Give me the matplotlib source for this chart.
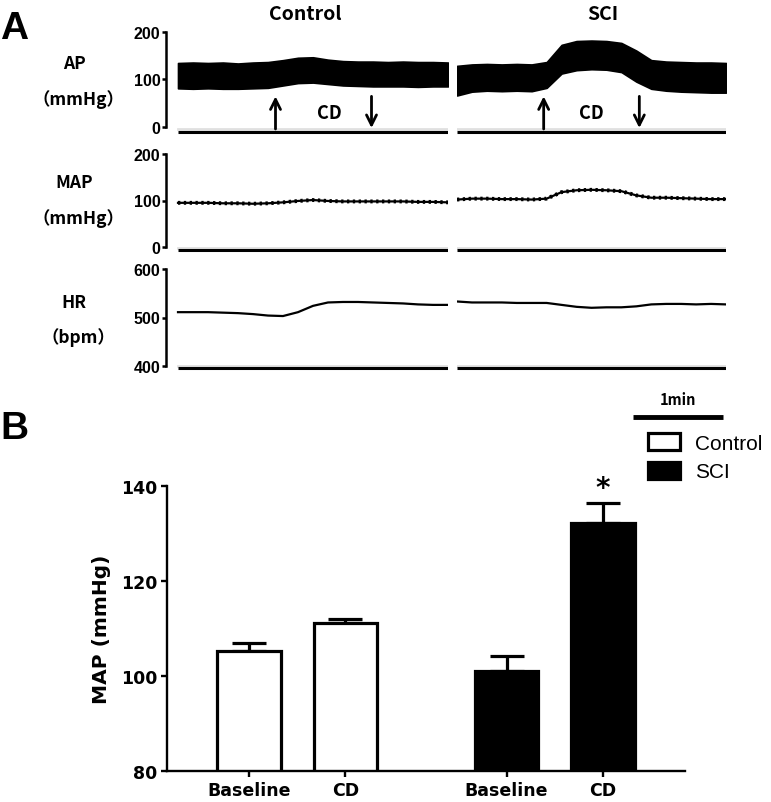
#!/usr/bin/env python3
"""Panel A: AP / MAP / HR recordings (Control vs SCI); panel B: MAP bar chart."""

import matplotlib
matplotlib.use("Agg")
import matplotlib.pyplot as plt
from matplotlib.patches import Patch
from matplotlib.transforms import offset_copy

W, H = 771, 803

# ---- panel A: traces, one value every 10 s (3 min) ----
t_sec = [0, 10, 20, 30, 40, 50, 60, 70, 80, 90, 100, 110, 120, 130, 140, 150, 160, 170, 180]

ctrl_ap_hi = [134, 135, 134, 135, 133, 135, 136, 140, 145, 146, 141, 138, 137, 137, 136, 137, 136, 136, 135]
ctrl_ap_lo = [81, 80, 81, 80, 80, 81, 82, 87, 92, 93, 90, 87, 86, 85, 85, 85, 84, 85, 85]
sci_ap_hi = [128, 131, 132, 131, 132, 131, 136, 172, 180, 181, 180, 176, 160, 140, 137, 136, 135, 135, 134]
sci_ap_lo = [66, 74, 76, 75, 76, 75, 82, 112, 119, 121, 120, 115, 95, 80, 76, 74, 73, 72, 72]

ctrl_map = [95, 95, 95, 94, 94, 93, 94, 96, 99, 101, 99, 98, 98, 98, 98, 98, 97, 97, 96]
sci_map = [102, 104, 104, 103, 103, 102, 104, 118, 122, 123, 122, 120, 111, 106, 106, 105, 104, 103, 103]

ctrl_hr = [511, 511, 511, 510, 509, 507, 504, 503, 511, 524, 531, 532, 532, 531, 530, 529, 527, 526, 526]
sci_hr = [533, 531, 531, 531, 530, 530, 530, 526, 522, 520, 521, 521, 523, 527, 528, 528, 527, 528, 527]

# CD on / off marks (s)
ctrl_cd = [65, 129]
sci_cd = [58, 122]

# ---- panel B: MAP (mmHg), mean and SEM ----
bar_labels = ["Baseline", "CD", "Baseline", "CD"]
ctrl_mean = [105.3, 111.2]
ctrl_sem = [1.7, 0.8]
sci_mean = [101.0, 132.2]
sci_sem = [3.2, 4.2]


def px_axes(fig, x0, y0, x1, y1):
    return fig.add_axes([x0 / W, 1 - y1 / H, (x1 - x0) / W, (y1 - y0) / H])


def ylims(v_a, p_a, v_b, p_b, top, bottom):
    k = (v_b - v_a) / (p_b - p_a)
    return v_a + (bottom - p_a) * k, v_a + (top - p_a) * k


def ftext(fig, x, y, s, **kw):
    fig.text(x / W, 1 - y / H, s, **kw)


def main() -> None:
    plt.rcParams["font.family"] = ["DejaVu Sans"]
    fig = plt.figure(figsize=(W / 100, H / 100), dpi=100)

    lab_font = ["Noto Sans CJK SC", "DejaVu Sans"]
    tick_font = ["Liberation Sans", "DejaVu Sans"]
    beads = (0, (0.6, 0.9))

    rows = [
        # name, unit, px top/bottom, (value, px) pairs, ticks, baseline value
        ("AP", "（mmHg）", 22, 142, (0, 128, 200, 32.5), [0, 100, 200], -10),
        ("MAP", "（mmHg）", 142, 258, (0, 248, 200, 155), [0, 100, 200], -7),
        ("HR", "（bpm）", 262, 378, (400, 367, 600, 270), [400, 500, 600], 395),
    ]
    label_y = [(64, 100), (183, 219), (303, 338)]

    for i, (name, unit, top, bot, cal, ticks, base) in enumerate(rows):
        lo, hi = ylims(cal[0], cal[1], cal[2], cal[3], top, bot)
        ax_c = px_axes(fig, 166, top, 448, bot)
        ax_s = px_axes(fig, 457, top, 726, bot)
        ax_c.set_xlim(-8, 180)
        ax_s.set_xlim(0, 180)
        for ax in (ax_c, ax_s):
            ax.set_ylim(lo, hi)
            for sp in ax.spines.values():
                sp.set_visible(False)
            ax.set_xticks([])
            ax.patch.set_alpha(0)
            shadow = offset_copy(ax.transData, fig=fig, y=2.5, units="dots")
            ax.plot([0, 180], [base, base], color="#e0e0e0", lw=2, transform=shadow)
            ax.plot([0, 180], [base, base], color="black", lw=2.2, solid_capstyle="butt")
        ax_s.set_yticks([])
        ax_c.spines["left"].set_visible(True)
        ax_c.spines["left"].set_linewidth(1.8)
        ax_c.spines["left"].set_bounds(ticks[0], ticks[-1])
        ax_c.set_yticks(ticks)
        ax_c.set_yticklabels([str(v) for v in ticks], fontsize=11.5, fontweight="bold",
                             family=tick_font)
        ax_c.tick_params(axis="y", direction="out", length=3, width=1.8, pad=1)

        if name == "AP":
            for ax, hi_v, lo_v in ((ax_c, ctrl_ap_hi, ctrl_ap_lo), (ax_s, sci_ap_hi, sci_ap_lo)):
                ax.fill_between(t_sec, lo_v, hi_v, color="black", lw=1.2)
            for ax, (t_on, t_off), t_txt in ((ax_c, ctrl_cd, 101), (ax_s, sci_cd, 90)):
                arrow = dict(arrowstyle="->", lw=2, color="black", mutation_scale=18)
                ax.annotate("", xy=(t_on, 70), xytext=(t_on, base), arrowprops=arrow)
                ax.annotate("", xy=(t_off, base + 2), xytext=(t_off, 70), arrowprops=arrow)
                ax.text(t_txt, 31, "CD", ha="center", va="center", fontsize=13,
                        fontweight="bold", family=lab_font)
        elif name == "MAP":
            for ax, v in ((ax_c, ctrl_map), (ax_s, sci_map)):
                ax.plot(t_sec, v, color="black", lw=1.6)
                ax.plot(t_sec, v, color="black", lw=2.8, ls=beads)
        else:
            for ax, v in ((ax_c, ctrl_hr), (ax_s, sci_hr)):
                ax.plot(t_sec, v, color="black", lw=1.6)

        ftext(fig, 74, label_y[i][0], name, ha="center", va="center", fontsize=12.5,
              fontweight="bold", family=lab_font)
        ftext(fig, 78, label_y[i][1], unit, ha="center", va="center", fontsize=12.5,
              fontweight="bold", family=lab_font)

    ftext(fig, 305, 14, "Control", ha="center", va="center", fontsize=14,
          fontweight="bold", family=lab_font)
    ftext(fig, 603, 14, "SCI", ha="center", va="center", fontsize=14,
          fontweight="bold", family=lab_font)
    ftext(fig, 0, 29, "A", ha="left", va="center", fontsize=28, fontweight="bold",
          family=tick_font)
    ftext(fig, 0, 429, "B", ha="left", va="center", fontsize=28, fontweight="bold",
          family=tick_font)

    # 1 min scale bar, same time scale as the SCI traces
    ax_sb = px_axes(fig, 457, 385, 726, 425)
    ax_sb.set_xlim(0, 180)
    ax_sb.set_ylim(0, 1)
    ax_sb.axis("off")
    ax_sb.plot([118, 178], [0.18, 0.18], color="black", lw=3.5, solid_capstyle="butt")
    ax_sb.text(148, 0.62, "1min", ha="center", va="center", fontsize=10.5,
               fontweight="bold", family=lab_font)

    # ---- panel B ----
    ax = px_axes(fig, 167, 487, 685, 772)
    x_ctrl = [1.0, 2.0]
    x_sci = [3.67, 4.67]
    ax.bar(x_ctrl, ctrl_mean, width=0.66, color="white", edgecolor="black",
           linewidth=2.3, label="Control", zorder=2)
    ax.bar(x_sci, sci_mean, width=0.66, color="black", edgecolor="black",
           linewidth=2.3, label="SCI", zorder=2)
    for xs, m, e in ((x_ctrl, ctrl_mean, ctrl_sem), (x_sci, sci_mean, sci_sem)):
        ax.errorbar(xs, m, yerr=[[0] * len(e), e], fmt="none", ecolor="black",
                    elinewidth=2.3, capsize=12.5, capthick=2.3, zorder=1)
    ax.text(x_sci[1], 139.6, "*", ha="center", va="center", fontsize=20,
            fontweight="bold", clip_on=False)

    ax.set_xlim(0.15, 5.52)
    ax.set_ylim(80, 140)
    ax.set_yticks([80, 100, 120, 140])
    ax.set_xticks(x_ctrl + x_sci)
    ax.set_xticklabels(bar_labels)
    for sp in ("top", "right"):
        ax.spines[sp].set_visible(False)
    for sp in ("left", "bottom"):
        ax.spines[sp].set_linewidth(1.7)
    ax.tick_params(direction="out", length=4, width=1.7, labelsize=12.5, pad=3)
    for lab in ax.get_xticklabels() + ax.get_yticklabels():
        lab.set_fontweight("bold")
    ax.set_ylabel("MAP (mmHg)", fontsize=14.5, fontweight="bold", labelpad=7)

    handles = [Patch(facecolor="white", edgecolor="black", linewidth=2.3, label="Control"),
               Patch(facecolor="black", edgecolor="black", linewidth=2.3, label="SCI")]
    fig.legend(handles=handles, loc="upper left", bbox_to_anchor=(648 / W, 1 - 434 / H),
               frameon=False, borderpad=0, borderaxespad=0,
               handlelength=1.55, handleheight=0.85, handletextpad=0.7,
               labelspacing=0.45, prop={"family": "Liberation Sans", "size": 15})

    fig.savefig("out.png", dpi=100)
    plt.close(fig)


if __name__ == "__main__":
    main()
